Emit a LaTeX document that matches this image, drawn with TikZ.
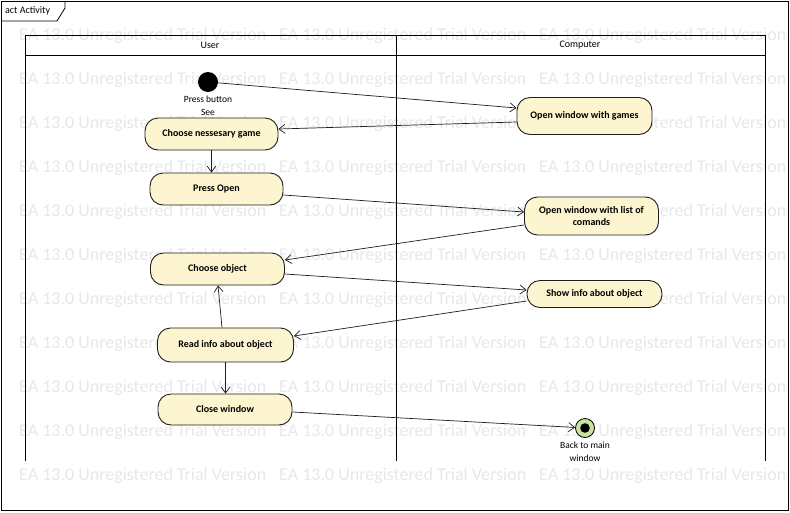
\documentclass[tikz,border=0pt]{standalone}
\usepackage{fontspec}
\setmainfont{Carlito}
\usetikzlibrary{arrows.meta,calc}
\definecolor{actfill}{RGB}{252,245,207}
\definecolor{finfill}{RGB}{200,226,160}
\definecolor{wmark}{RGB}{232,232,232}
\definecolor{edgec}{RGB}{30,30,30}
\begin{document}
\begin{tikzpicture}[x=1pt,y=-1pt,
  act/.style={draw=edgec, fill=actfill, rounded corners=13pt, line width=0.9pt,
     font=\fontsize{10}{12}\selectfont\bfseries, align=center, inner sep=0pt},
  flow/.style={draw=edgec, line width=0.7pt, -{Straight Barb[length=6pt,width=9pt]}},
  lbl/.style={font=\fontsize{9.5}{11}\selectfont, inner sep=0pt},
  wm/.style={font=\fontsize{18}{20}\selectfont, text=wmark, anchor=west, inner sep=0pt}]
\useasboundingbox (0,0) rectangle (790,512);
\fill[white] (0,0) rectangle (790,512);
% watermark
\foreach \r in {0,...,10}{
  \foreach \c in {19,279,539}{
    \node[wm] at (\c,{36+44*\r}) {EA 13.0 Unregistered Trial Version};
  }
}
% frame
\draw[line width=0.8pt] (1,1) rectangle (788,510);
\draw[line width=0.8pt] (1,21) -- (57,21) -- (65,8) -- (65,1);
\node[lbl, font=\fontsize{10}{12}\selectfont, anchor=west] (frm) at (5,11) {act Activity};
% swimlanes
\draw[line width=0.8pt] (25,461) -- (25,35.5) -- (765,35.5) -- (765,461);
\draw[line width=0.8pt] (25,55) -- (765,55);
\draw[line width=0.8pt] (396,35.5) -- (396,461);
\node[lbl, font=\fontsize{10}{12}\selectfont] (lu) at (210,45) {User};
\node[lbl, font=\fontsize{10}{12}\selectfont] (lc) at (580,45) {Computer};
% initial
\node[circle, fill=black, minimum size=20pt, inner sep=0pt] (init) at (208,82) {};
\node[lbl] (initl1) at (208,99) {Press button};
\node[lbl] (initl2) at (208,112) {See};
% actions
\node[act, minimum width=133pt, minimum height=32pt] (cng) at (211.5,134) {Choose nessesary game};
\node[act, minimum width=135pt, minimum height=37pt] (owg) at (584.5,116) {Open window with games};
\node[act, minimum width=133pt, minimum height=32pt] (po) at (216.5,189) {Press Open};
\node[act, minimum width=134pt, minimum height=38pt] (owl) at (591.5,216) {Open window with list of\\comands};
\node[act, minimum width=134pt, minimum height=32pt] (co) at (217.5,269) {Choose object};
\node[act, minimum width=135pt, minimum height=27pt] (sio) at (594.5,294) {Show info about object};
\node[act, minimum width=136pt, minimum height=34pt] (rio) at (225.5,345) {Read info about object};
\node[act, minimum width=134pt, minimum height=31pt] (cw) at (225,409.5) {Close window};
% final
\node[circle, draw=black, fill=finfill, line width=0.8pt, minimum size=19pt, inner sep=0pt] (fin) at (585,428) {};
\fill[black] (fin.center) circle (4.8pt);
\node[lbl] (finl1) at (585,445) {Back to main};
\node[lbl] (finl2) at (585,458) {window};
% flows
\draw[flow] (init) -- ([yshift=8pt]owg.west);
\draw[flow] ([yshift=-6pt]owg.west) -- ([yshift=5pt]cng.east);
\draw[flow] (cng.south) -- (cng.south |- po.north);
\draw[flow] ([yshift=-6pt]po.east) -- ([yshift=4pt]owl.west);
\draw[flow] ([yshift=-9pt]owl.west) -- ([yshift=9pt]co.east);
\draw[flow] ([yshift=-5pt]co.east) -- ([yshift=4pt]sio.west);
\draw[flow] ([yshift=-7pt]sio.west) -- ([yshift=9pt]rio.east);
\draw[flow] ([xshift=-3.5pt]rio.north) -- ([xshift=0.5pt]co.south);
\draw[flow] (rio.south) -- (rio.south |- cw.north);
\draw[flow] ([yshift=-2.5pt]cw.east) -- (fin);
\end{tikzpicture}
\end{document}
